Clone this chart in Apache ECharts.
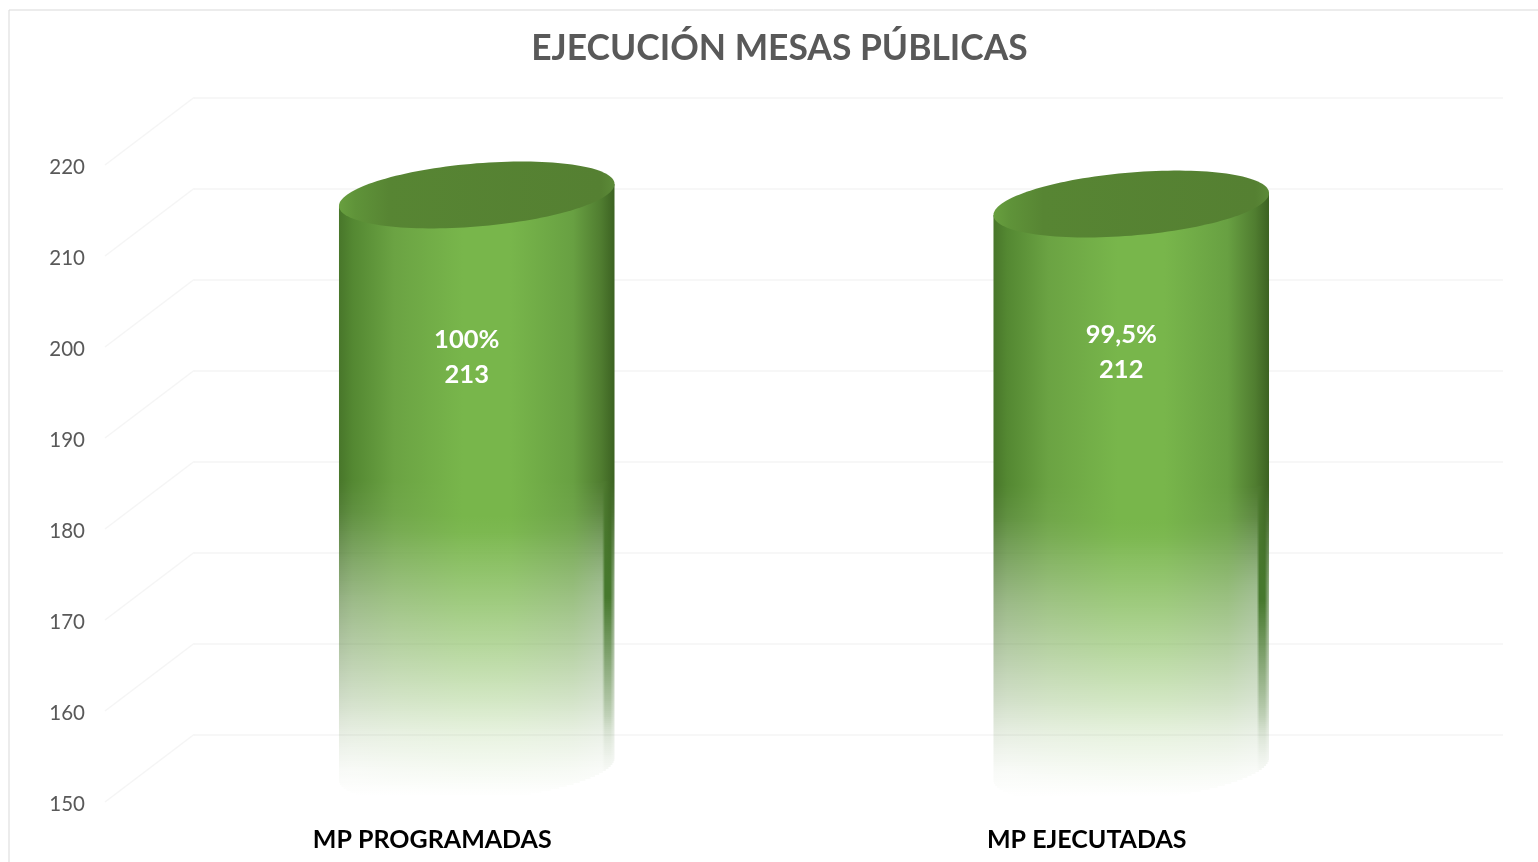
<!DOCTYPE html>
<html lang="es">
<head>
    <meta charset="UTF-8">
    <title>Ejecución mesas públicas</title>
    <script src="https://cdn.jsdelivr.net/npm/echarts@6/dist/echarts.min.js"></script>
    <style>
        html, body { margin: 0; padding: 0; background: #fff; }
        #main { width: 1538px; height: 862px; }
    </style>
</head>
<body>
<div id="main"></div>
<script type="text/javascript">
    var titleText = 'EJECUCIÓN MESAS PÚBLICAS';
    var categories = ['MP PROGRAMADAS', 'MP EJECUTADAS'];
    var values = [213, 212];
    var percents = ['100%', '99,5%'];
    var yTicks = [150, 160, 170, 180, 190, 200, 210, 220];

    // depth of the fake 3d floor, front plane to back wall
    var depthX = 89;
    var depthY = -67.5;
    var gridLeft = 105, gridTop = 165, gridWidth = 1309, gridHeight = 637;
    var fontName = 'Lato, "Open Sans", sans-serif';

    // label height above the front point of the top ellipse
    var labelLift = [-129, -114.5];

    var sideStops = [
        [0, 72, 118, 42], [0.05, 84, 136, 50], [0.2, 107, 163, 67], [0.45, 120, 182, 75],
        [0.62, 120, 182, 75], [0.85, 104, 160, 66], [0.95, 80, 125, 48], [1, 60, 98, 34]
    ];
    // fade of the lower part: [y as share of the height between value and floor, alpha]
    var fadeMiddle = [[0.5, 1], [0.53, 0.97], [0.564, 0.89], [0.647, 0.72], [0.735, 0.53], [0.822, 0.33], [0.883, 0.17], [0.944, 0.07], [0.99, 0]];
    var fadeEdge = [[0.44, 1], [0.494, 0.93], [0.58, 0.73], [0.647, 0.58], [0.735, 0.42], [0.822, 0.26], [0.883, 0.13], [0.944, 0.04], [0.99, 0]];

    function fadeAlpha(table, k) {
        if (k <= table[0][0]) return 1;
        for (var i = 1; i < table.length; i++) {
            if (k <= table[i][0]) {
                var a = table[i - 1], b = table[i];
                return a[1] + (b[1] - a[1]) * (k - a[0]) / (b[0] - a[0]);
            }
        }
        return 0;
    }

    function rgba(a, b, w, alpha) {
        return 'rgba(' + Math.round(a[0] + (b[0] - a[0]) * w) + ',' + Math.round(a[1] + (b[1] - a[1]) * w) + ','
            + Math.round(a[2] + (b[2] - a[2]) * w) + ',' + alpha.toFixed(3) + ')';
    }

    function sideFill(left, right, alpha, edge) {
        var half = (alpha + edge) / 2;
        var stops = sideStops.map(function (s) {
            var c = [s[1], s[2], s[3]];
            var a = alpha;
            if (s[0] <= 0.05 || s[0] >= 0.95) a = edge;
            else if (s[0] <= 0.2 || s[0] >= 0.85) a = half;
            return { offset: s[0], color: rgba(c, c, 0, a) };
        });
        if (edge < 1) {
            // thin dark sliver on the right, it comes in slowly and lasts longer than the rest
            var v = Math.min(1, (1 - edge) / 0.35);
            var a2 = Math.min(1, edge * (1 + 0.7 * v * Math.min(1, edge / 0.2)));
            stops = stops.filter(function (s) { return s.offset < 0.95; });
            stops.push({ offset: 0.955, color: rgba([78, 122, 47], [104, 150, 80], v, edge) });
            stops.push({ offset: 0.965, color: rgba([76, 120, 46], [70, 120, 45], v, a2) });
            stops.push({ offset: 0.985, color: rgba([66, 106, 38], [70, 120, 45], v, a2) });
            stops.push({ offset: 1, color: rgba([60, 98, 34], [90, 130, 70], v, edge) });
        }
        return { type: 'linear', x: left, y: 0, x2: right, y2: 0, global: true, colorStops: stops };
    }

    function renderCylinder(params, api) {
        var idx = api.value(0);
        var front = api.coord([idx, api.value(1)]);
        var floor = api.coord([idx, yTicks[0]]);
        var rx = api.size([1, 0])[0] * 0.2105;
        var cx = front[0] + depthX / 2;
        var cy = front[1] + depthY / 2;
        var floorCy = floor[1] + depthY / 2;
        var tilt = 11, ry = 31.6;
        var left = cx - rx, right = cx + rx;
        var children = [];

        var fadeTop = Math.round(front[1] + (floor[1] - front[1]) * fadeEdge[0][0]);
        children.push({
            type: 'polygon',
            shape: { points: [[left, cy + tilt], [right, cy - tilt], [right, fadeTop], [left, fadeTop]] },
            style: { fill: sideFill(left, right, 1, 1) }
        });

        // lower part in thin strips so the alpha can run across the gradient
        var r = Math.sqrt(tilt * tilt + ry * ry);
        var phi = Math.atan2(-tilt, ry);
        for (var y = fadeTop; y < floorCy + r; y += 2) {
            var k = (y + 1 - front[1]) / (floor[1] - front[1]);
            var alpha = fadeAlpha(fadeMiddle, k);
            if (alpha <= 0) continue;
            var x0 = left, x1 = right;
            var dy = y - floorCy;
            if (dy > -tilt) {
                // x = cx + rx cos t, y = floorCy - tilt cos t + ry sin t
                var s = Math.asin(Math.min(1, dy / r));
                var xa = cx + rx * Math.cos(s - phi);
                var xb = cx + rx * Math.cos(Math.PI - s - phi);
                x1 = Math.max(xa, xb);
                if (dy > tilt) x0 = Math.min(xa, xb);
            }
            children.push({
                type: 'rect',
                shape: { x: x0, y: y, width: x1 - x0, height: 2 },
                style: { fill: sideFill(left, right, alpha, fadeAlpha(fadeEdge, k)) }
            });
        }

        var pts = [];
        for (var i = 0; i < 140; i++) {
            var t = i / 140 * Math.PI * 2;
            pts.push([cx + rx * Math.cos(t), cy - tilt * Math.cos(t) + ry * Math.sin(t)]);
        }
        children.push({
            type: 'polygon',
            shape: { points: pts },
            style: {
                fill: {
                    type: 'linear', x: left, y: 0, x2: right, y2: 0, global: true,
                    colorStops: [
                        { offset: 0, color: '#689f3f' }, { offset: 0.06, color: '#5f9339' },
                        { offset: 0.18, color: '#578533' }, { offset: 0.95, color: '#558032' },
                        { offset: 1, color: '#5c8a38' }
                    ]
                }
            }
        });

        children.push({
            type: 'text',
            style: {
                text: percents[idx] + '\n' + api.value(1),
                x: front[0] + 34.5,
                y: front[1] - labelLift[idx],
                fill: '#ffffff',
                fontFamily: fontName,
                fontWeight: 'bold',
                fontSize: 25.5,
                lineHeight: 35,
                align: 'center',
                verticalAlign: 'middle'
            }
        });
        return { type: 'group', children: children };
    }

    function renderDiagonal(params, api) {
        var p = api.coord([0, api.value(0)]);
        var x = params.coordSys.x;
        return {
            type: 'line',
            shape: { x1: x, y1: p[1], x2: x + depthX, y2: p[1] + depthY },
            style: { stroke: '#f5f5f5', lineWidth: 1.5 }
        };
    }

    var chart = echarts.init(document.getElementById('main'));
    chart.setOption({
        animation: false,
        backgroundColor: '#ffffff',
        title: {
            text: titleText,
            left: 774.5,
            top: 26,
            textAlign: 'center',
            textStyle: { fontFamily: fontName, fontWeight: 'bold', fontSize: 35.4, color: '#595959' }
        },
        graphic: [
            { type: 'line', shape: { x1: 9, y1: 10, x2: 1538, y2: 10 }, style: { stroke: '#d9d9d9', lineWidth: 1 } },
            { type: 'line', shape: { x1: 9, y1: 10, x2: 9, y2: 862 }, style: { stroke: '#d9d9d9', lineWidth: 1 } }
        ],
        grid: [
            { left: gridLeft, top: gridTop, width: gridWidth, height: gridHeight },
            { left: gridLeft + depthX, top: gridTop + depthY, width: gridWidth, height: gridHeight }
        ],
        xAxis: [
            {
                type: 'category', gridIndex: 0, data: categories,
                axisLine: { show: false }, axisTick: { show: false },
                axisLabel: { margin: 25, fontFamily: fontName, fontWeight: 'bold', fontSize: 25, color: '#000000' }
            },
            { type: 'category', gridIndex: 1, data: categories, show: false }
        ],
        yAxis: [
            {
                type: 'value', gridIndex: 0, min: yTicks[0], max: yTicks[yTicks.length - 1], interval: 10,
                splitLine: { show: false }, axisLine: { show: false }, axisTick: { show: false },
                axisLabel: {
                    margin: 20,
                    formatter: '{t|{value}}',
                    rich: { t: { fontFamily: fontName, fontSize: 20.5, color: '#595959', padding: [5, 0, 0, 0] } }
                }
            },
            {
                type: 'value', gridIndex: 1, min: yTicks[0], max: yTicks[yTicks.length - 1], interval: 10,
                axisLine: { show: false }, axisTick: { show: false }, axisLabel: { show: false },
                splitLine: { lineStyle: { color: '#f5f5f5', width: 1.5 } }
            }
        ],
        series: [
            {
                type: 'custom', name: 'diagonales', xAxisIndex: 0, yAxisIndex: 0, silent: true, z: 1,
                renderItem: renderDiagonal,
                data: yTicks.map(function (v) { return [v]; }),
                encode: { y: 0 }
            },
            {
                type: 'custom', name: 'Mesas públicas', xAxisIndex: 0, yAxisIndex: 0, z: 3,
                renderItem: renderCylinder,
                data: values.map(function (v, i) { return [i, v]; }),
                encode: { x: 0, y: 1 }
            }
        ]
    });
</script>
</body>
</html>
